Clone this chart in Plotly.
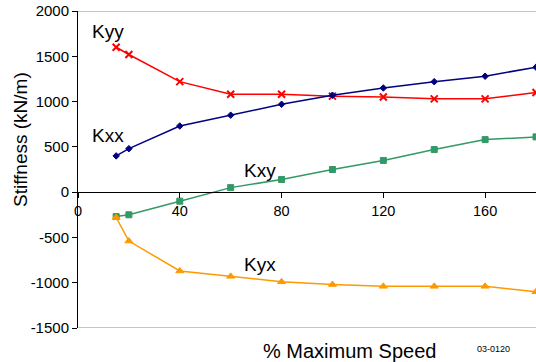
import plotly.graph_objects as go

speed = [15, 20, 40, 60, 80, 100, 120, 140, 160, 180]
kyy = [1600, 1520, 1220, 1080, 1080, 1060, 1050, 1030, 1030, 1100]
kxx = [400, 480, 730, 850, 970, 1070, 1150, 1220, 1280, 1380]
kxy = [-270, -250, -100, 50, 140, 250, 350, 470, 580, 610]
kyx = [-280, -540, -870, -930, -990, -1020, -1040, -1040, -1040, -1100]
y_ticks = [-1500, -1000, -500, 0, 500, 1000, 1500, 2000]
y_tick_text = ["-1500", "-1000", "-500", "0", "500", "1000", "1500", "2000"]
x_ticks = [0, 40, 80, 120, 160]

series = [
    ("Kyy", kyy, "#FF0000", "x-thin", 7, 2),
    ("Kxx", kxx, "#000080", "diamond", 5, 1),
    ("Kxy", kxy, "#339966", "square", 6, 1),
    ("Kyx", kyx, "#FF9900", "triangle-up", 7, 1),
]

fig = go.Figure()
for name, vals, col, sym, sz, lw in series:
    fig.add_trace(go.Scatter(
        x=speed, y=vals, mode="lines+markers", name=name,
        line=dict(color=col, width=1.5),
        marker=dict(symbol=sym, size=sz, color=col, line=dict(color=col, width=lw)),
        cliponaxis=False, hoverinfo="skip",
    ))

labels = [("Kyy", 4.7, 1770), ("Kxx", 4.7, 620), ("Kxy", 64.5, 235), ("Kyx", 64.5, -795)]
for t, x, y in labels:
    fig.add_annotation(x=x, y=y, text=t, showarrow=False, xanchor="left", yanchor="middle",
                       font=dict(size=19, color="black"))

fig.add_annotation(xref="paper", yref="paper", x=-0.1266, y=0.593, text="Stiffness (kN/m)",
                   textangle=-90, showarrow=False, xanchor="center", yanchor="middle",
                   font=dict(size=19, color="black"))
fig.add_annotation(xref="paper", yref="paper", x=0.5928, y=-0.0726, text="% Maximum Speed",
                   showarrow=False, xanchor="center", yanchor="middle",
                   font=dict(size=20, color="black"))
fig.add_annotation(xref="paper", yref="paper", x=0.908, y=-0.0662, text="03-0120",
                   showarrow=False, xanchor="center", yanchor="middle",
                   font=dict(size=9, color="black"))

for yv in [2000, -1500]:
    fig.add_shape(type="line", xref="paper", yref="y", x0=0, x1=1, y0=yv, y1=yv,
                  line=dict(color="#B0B0B0", width=1.5))

fig.update_layout(
    width=536, height=362,
    margin=dict(l=78, r=0, t=11, b=34, autoexpand=False),
    paper_bgcolor="white", plot_bgcolor="white",
    showlegend=False,
    font=dict(family="Liberation Sans, Arial", color="black"),
    xaxis=dict(range=[0, 180], tickvals=x_ticks, showgrid=False,
               zeroline=False, showline=True, linecolor="black", linewidth=1,
               ticks="outside", ticklen=5, tickcolor="black",
               anchor="free", position=1500/3500, automargin=False,
               tickfont=dict(size=14.5)),
    yaxis=dict(range=[-1500, 2000], tickvals=y_ticks, ticktext=y_tick_text,
               showgrid=False, zeroline=False,
               showline=True, linecolor="black", linewidth=1,
               ticks="outside", ticklen=5, tickcolor="black", automargin=False,
               ticklabeloverflow="allow", tickfont=dict(size=15)),
)

fig.write_html("out.html", config={"displayModeBar": False},
               post_script="document.body.style.margin='0';")
